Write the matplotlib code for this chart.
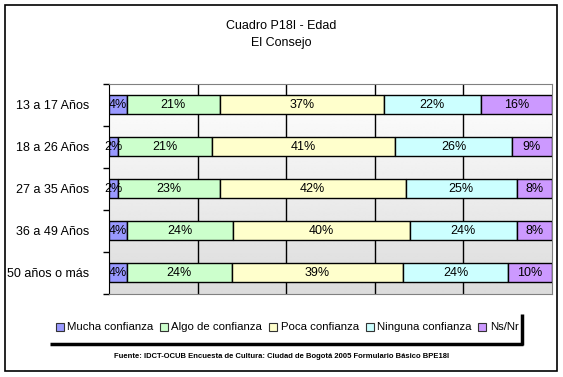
import numpy as np
import matplotlib
matplotlib.use("Agg")
import matplotlib.pyplot as plt
from matplotlib.patches import Rectangle
from matplotlib.lines import Line2D

plt.rcParams['font.family'] = ['Liberation Sans', 'DejaVu Sans']

# data
groups = ['13 a 17 Años', '18 a 26 Años', '27 a 35 Años', '36 a 49 Años', '50 años o más']
series = ['Mucha confianza', 'Algo de confianza', 'Poca confianza', 'Ninguna confianza', 'Ns/Nr']
mucha = [4, 2, 2, 4, 4]
algo = [21, 21, 23, 24, 24]
poca = [37, 41, 42, 40, 39]
ninguna = [22, 26, 25, 24, 24]
nsnr = [16, 9, 8, 8, 10]
colors = ['#9999FF', '#CCFFCC', '#FFFFCC', '#CCFFFF', '#CC99FF']

W, H = 563, 377
fig = plt.figure(figsize=(W / 100, H / 100), dpi=100)

# outer border
fig.add_artist(Rectangle((5 / W, 1 - 371 / H), 552 / W, 366 / H, transform=fig.transFigure,
                         fill=False, edgecolor='black', lw=1.2))

ax = fig.add_axes([109 / W, 1 - 293.5 / H, 443 / W, 210 / H])

# gray gradient background
grad = np.linspace(1.0, 0.86, 256).reshape(-1, 1)
ax.imshow(grad, cmap='gray', vmin=0, vmax=1, aspect='auto', extent=[0, 1, 0, 1],
          transform=ax.transAxes, zorder=0, interpolation='bilinear')

data = np.array([mucha, algo, poca, ninguna, nsnr], dtype=float)
totals = data.sum(axis=0)
y = np.arange(len(groups))
left = np.zeros(len(groups))
for vals, col in zip(data, colors):
    w = vals / totals * 100
    ax.barh(y, w, left=left, height=0.45, color=col, edgecolor='black', lw=1, zorder=3)
    for yi, li, wi, v in zip(y, left, w, vals):
        ax.text(li + wi / 2, yi, '%d%%' % v, ha='center', va='center', fontsize=9, zorder=4)
    left += w

ax.set_xlim(0, 100)
ax.set_ylim(len(groups) - 0.5, -0.5)
for gx in [20, 40, 60, 80]:
    ax.axvline(gx, color='black', lw=1, zorder=1)

ax.set_xticks([])
ax.set_yticks(y)
ax.set_yticklabels(groups, fontsize=9)
ax.tick_params(axis='y', which='major', length=0, pad=14)
ax.set_yticks(np.arange(-0.5, len(groups)), minor=True)
ax.tick_params(axis='y', which='minor', length=4, width=1, color='black')
for s in ['top', 'right', 'bottom']:
    ax.spines[s].set_color('#808080')
ax.spines['left'].set_color('black')

fig.text(0.5, 1 - 26 / H, 'Cuadro P18I - Edad', ha='center', va='center', fontsize=9)
fig.text(0.5, 1 - 43 / H, 'El Consejo', ha='center', va='center', fontsize=9)

handles = [Rectangle((0, 0), 1, 1, facecolor=c, edgecolor='#333333', lw=0.8) for c in colors]
leg = fig.legend(handles, series, loc='center', bbox_to_anchor=(287 / W, 1 - 327.5 / H), ncol=5,
                 frameon=False, fontsize=8.2, handlelength=0.7, handleheight=0.7,
                 handletextpad=0.3, columnspacing=0.6)

# legend shadow
fig.add_artist(Line2D([50 / W, 523 / W], [1 - 344 / H, 1 - 344 / H], transform=fig.transFigure,
                      color='black', lw=2.5, solid_capstyle='butt'))
fig.add_artist(Line2D([522 / W, 522 / W], [1 - 314 / H, 1 - 345 / H], transform=fig.transFigure,
                      color='black', lw=2.5, solid_capstyle='butt'))

fig.text(0.5, 1 - 357 / H,
         'Fuente: IDCT-OCUB Encuesta de Cultura: Ciudad de Bogotá 2005 Formulario Básico BPE18I',
         ha='center', va='center', fontsize=5.5, fontweight='bold')

fig.savefig('out.png', dpi=100)
